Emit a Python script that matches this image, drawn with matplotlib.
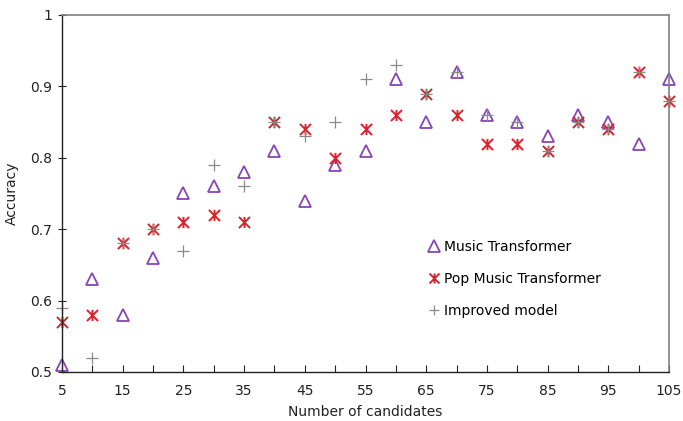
"""Accuracy vs number of candidates for three models."""

import matplotlib.pyplot as plt
from matplotlib.path import Path

candidates = [5, 10, 15, 20, 25, 30, 35, 40, 45, 50, 55,
              60, 65, 70, 75, 80, 85, 90, 95, 100, 105]

music_transformer = [0.51, 0.63, 0.58, 0.66, 0.75, 0.76, 0.78, 0.81, 0.74, 0.79, 0.81,
                     0.91, 0.85, 0.92, 0.86, 0.85, 0.83, 0.86, 0.85, 0.82, 0.91]
pop_music_transformer = [0.57, 0.58, 0.68, 0.70, 0.71, 0.72, 0.71, 0.85, 0.84, 0.80, 0.84,
                         0.86, 0.89, 0.86, 0.82, 0.82, 0.81, 0.85, 0.84, 0.92, 0.88]
improved_model = [0.59, 0.52, 0.68, 0.70, 0.67, 0.79, 0.76, 0.85, 0.83, 0.85, 0.91,
                  0.93, 0.89, 0.92, 0.86, 0.85, 0.81, 0.85, 0.84, 0.92, 0.88]

x_ticks = list(range(5, 106, 5))
x_labels = [str(t) if t % 10 == 5 else "" for t in x_ticks]
y_ticks = [0.5, 0.6, 0.7, 0.8, 0.9, 1.0]
y_labels = ["0.5", "0.6", "0.7", "0.8", "0.9", "1"]

# asterisk like the spreadsheet one: an X with a vertical bar through it
asterisk = Path(
    [(-1, -1), (1, 1), (-1, 1), (1, -1), (0, -1), (0, 1)],
    [Path.MOVETO, Path.LINETO, Path.MOVETO, Path.LINETO, Path.MOVETO, Path.LINETO],
)

fig = plt.figure(figsize=(6.83, 4.21), dpi=100)
ax = fig.add_axes([0.0908, 0.1164, 0.8887, 0.848])

ax.plot(candidates, music_transformer, linestyle="none", marker="^",
        markersize=9, markerfacecolor="none", markeredgecolor="#8845b5",
        markeredgewidth=1.3, label="Music Transformer", clip_on=False)
ax.plot(candidates, pop_music_transformer, linestyle="none", marker=asterisk,
        markersize=8, color="#d9222a", markeredgewidth=1.4,
        label="Pop Music Transformer", clip_on=False)
ax.plot(candidates, improved_model, linestyle="none", marker="+",
        markersize=8, color="#8a8a8a", markeredgewidth=0.9,
        label="Improved model", clip_on=False)

ax.set_xlim(5, 105)
ax.set_ylim(0.5, 1.0)
ax.set_xticks(x_ticks)
ax.set_xticklabels(x_labels)
ax.set_yticks(y_ticks)
ax.set_yticklabels(y_labels)
ax.tick_params(axis="x", direction="in", length=5, labelsize=10, pad=9, colors="#222222")
ax.tick_params(axis="y", direction="inout", length=6, labelsize=10, pad=4, colors="#222222")

for side in ["top", "right"]:
    ax.spines[side].set_color("#808080")
    ax.spines[side].set_linewidth(1.2)
for side in ["left", "bottom"]:
    ax.spines[side].set_color("#222222")
    ax.spines[side].set_linewidth(1.0)

ax.set_xlabel("Number of candidates", fontsize=10, color="#222222", labelpad=5)
ax.set_ylabel("Accuracy", fontsize=10, color="#222222", labelpad=8)

ax.legend(loc="upper left", bbox_to_anchor=(0.592, 0.39), frameon=False,
          fontsize=10, handlelength=0.8, handletextpad=0.35, labelspacing=1.3,
          borderpad=0, markerscale=0.9)

fig.savefig("out.png", dpi=100)
